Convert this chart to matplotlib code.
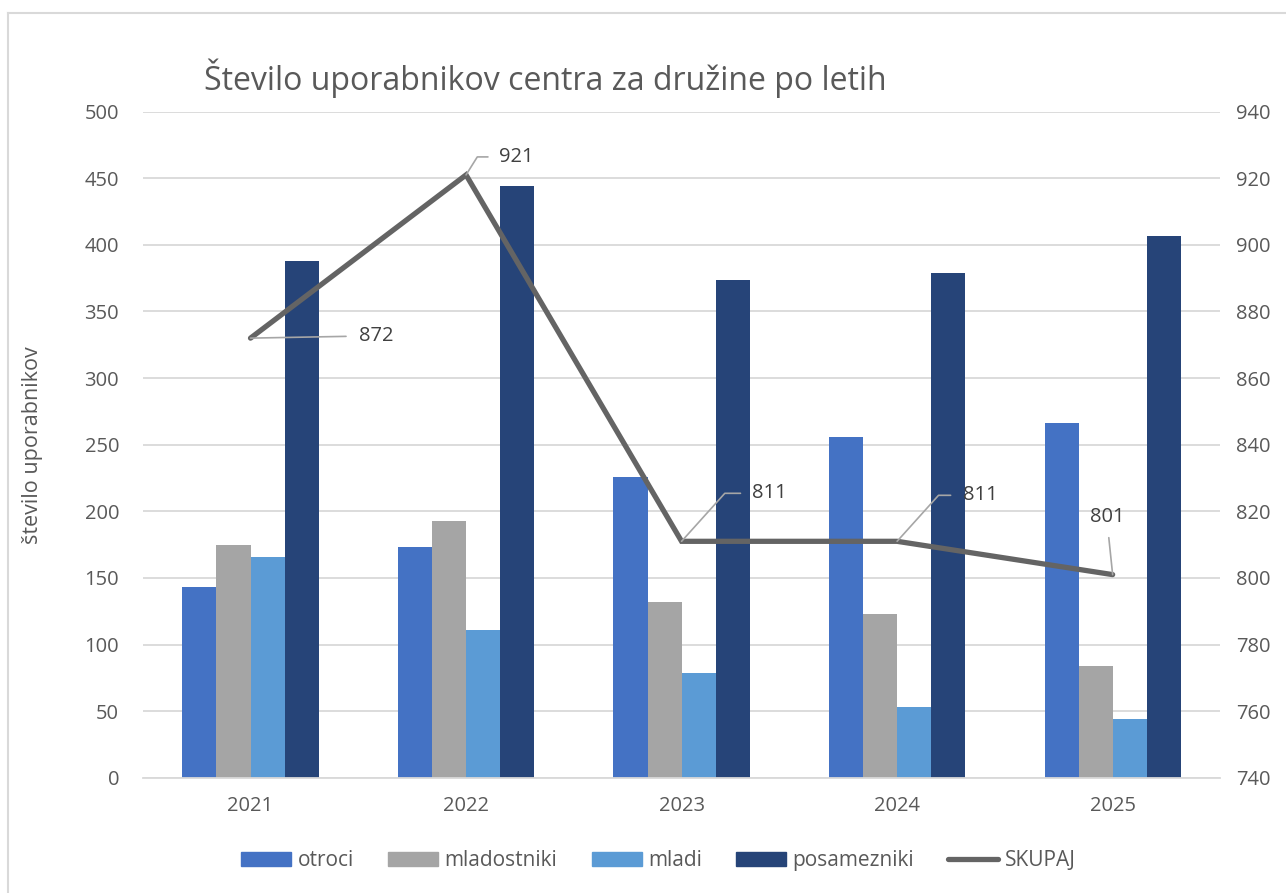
import numpy as np
import matplotlib
matplotlib.use("Agg")
import matplotlib.pyplot as plt
from matplotlib.lines import Line2D
from matplotlib.patches import Patch

plt.rcParams['font.family'] = ['Open Sans', 'DejaVu Sans']

# data
years = ["2021", "2022", "2023", "2024", "2025"]
otroci = [143, 173, 226, 256, 266]
mladostniki = [175, 193, 132, 123, 84]
mladi = [166, 111, 79, 53, 44]
posamezniki = [388, 444, 374, 379, 407]
skupaj = [872, 921, 811, 811, 801]

series_names = ["otroci", "mladostniki", "mladi", "posamezniki"]
colors = ["#4472C4", "#A5A5A5", "#5B9BD5", "#264478"]
line_color = "#646464"
text_color = "#595959"

fig = plt.figure(figsize=(12.86, 8.93), dpi=100)
ax = fig.add_axes([0.111, 0.129, 0.838, 0.746])
ax2 = ax.twinx()

x = np.arange(len(years))
w = 0.158
for i, (vals, col) in enumerate(zip([otroci, mladostniki, mladi, posamezniki], colors)):
    ax.bar(x + (i - 1.5) * w, vals, width=w, color=col, zorder=2)

ax.set_xlim(-0.5, 4.5)
ax.set_ylim(0, 500)
ax.set_yticks(range(0, 501, 50))
ax.grid(axis="y", color="#D9D9D9", linewidth=1.3, zorder=0)
ax.set_axisbelow(True)
ax.set_xticks(x)
ax.set_xticklabels(years)
for s in ax.spines.values():
    s.set_visible(False)
for s in ax2.spines.values():
    s.set_visible(False)
ax.spines["bottom"].set_visible(True)
ax.spines["bottom"].set_color("#D9D9D9")
ax.spines["bottom"].set_linewidth(1.3)
ax.tick_params(axis="both", length=0, labelsize=14.5, colors=text_color)
ax.tick_params(axis="x", pad=13)
ax.tick_params(axis="y", pad=17)
ax.set_ylabel("število uporabnikov", fontsize=15.5, color=text_color)
ax.yaxis.set_label_coords(-0.093, 0.5)

ax2.plot(x, skupaj, color=line_color, linewidth=3.8, solid_capstyle="round",
         solid_joinstyle="miter", zorder=5)
ax2.set_ylim(740, 940)
ax2.set_yticks(range(740, 941, 20))
ax2.tick_params(axis="y", length=0, labelsize=14.5, colors=text_color, pad=11)

# data labels with leader lines: offset (px), alignment, leader style
px = 0.72
labels = [
    ((108, 2), "left", "center", (0, 0.5), "arc3", 7),
    ((33, 18), "left", "center", (0, 0.5), "angle,angleA=0,angleB=58,rad=0", 6),
    ((70, 48), "left", "center", (0, 0.5), "angle,angleA=0,angleB=48,rad=0", 6),
    ((66, 46), "left", "center", (0, 0.5), "angle,angleA=0,angleB=48,rad=0", 7),
    ((-5, 48), "center", "bottom", (0.5, 0), "arc3", 6),
]
for xi, v, (off, ha, va, rp, cs, shr) in zip(x, skupaj, labels):
    ax2.annotate(str(v), xy=(xi, v), xytext=(off[0] * px, off[1] * px),
                 textcoords="offset points", fontsize=14.5, color="#404040",
                 ha=ha, va=va,
                 arrowprops=dict(arrowstyle="-", color="#A6A6A6", lw=1.2,
                                 shrinkA=shr, shrinkB=0, relpos=rp,
                                 connectionstyle=cs),
                 zorder=6)

fig.text(0.159, 0.912, "Število uporabnikov centra za družine po letih",
         fontsize=23, color=text_color, va="center")

handles = [Patch(color=c) for c in colors] + \
    [Line2D([0], [0], color=line_color, linewidth=3.8, solid_capstyle="round")]
leg = fig.legend(handles, series_names + ["SKUPAJ"], loc="center",
                 bbox_to_anchor=(0.512, 0.036), ncol=5, frameon=False,
                 fontsize=15, handlelength=2.4, handleheight=0.67,
                 handletextpad=0.3, columnspacing=1.65)
for t in leg.get_texts():
    t.set_color(text_color)

# chart border (left and top only visible)
fig.add_artist(Line2D([0.0065, 0.0065], [0.0, 0.985], color="#D9D9D9", lw=1.5,
                      transform=fig.transFigure))
fig.add_artist(Line2D([0.0065, 1.0], [0.985, 0.985], color="#D9D9D9", lw=1.5,
                      transform=fig.transFigure))

fig.savefig("out.png", dpi=100, facecolor="white")
